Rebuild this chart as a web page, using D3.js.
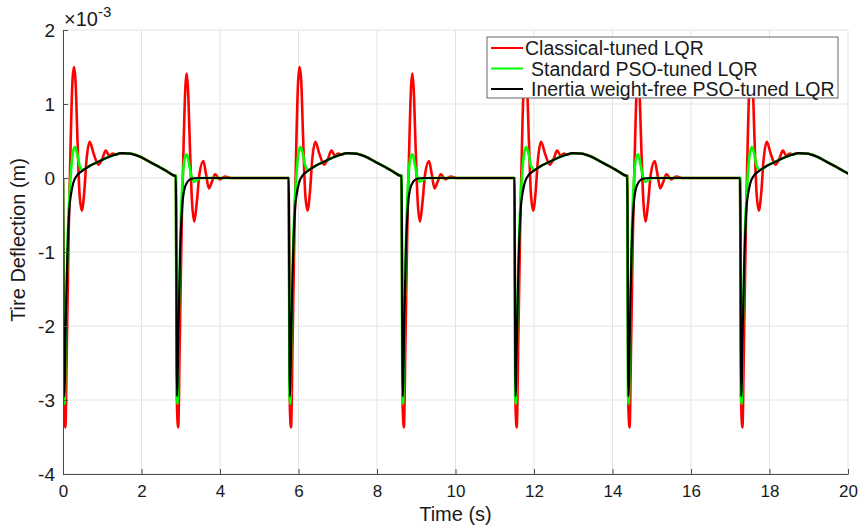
<!DOCTYPE html>
<html>
<head>
<meta charset="utf-8">
<script src="https://cdn.jsdelivr.net/npm/d3@7"></script>
<style>
  body { margin: 0; background: #fff; }
  text { font-family: "Liberation Sans", Arial, sans-serif; }
</style>
</head>
<body>
<div id="chart"></div>
<script>
// tick labels
const xTicks = [0, 2, 4, 6, 8, 10, 12, 14, 16, 18, 20];
const yTicks = [-4, -3, -2, -1, 0, 1, 2];

// the road input repeats: each cycle starts with a drop, then either a bump or flat road
const cycleStarts = [0, 2.875, 5.75, 8.625, 11.5, 14.375, 17.25];
const cycleKinds = ["bump", "flat", "bump", "flat", "bump", "flat", "bump"];

// [seconds after cycle start, deflection x1e-3 m]
const classicalBump = [[0, 0], [0.03, -3.1], [0.06, -3.37], [0.1, -2.2], [0.15, -0.6], [0.2, 0.6], [0.24, 1.3], [0.28, 1.5], [0.32, 1.3], [0.37, 0.5], [0.42, -0.2], [0.48, -0.44], [0.54, -0.2], [0.6, 0.25], [0.68, 0.49], [0.78, 0.33], [0.9, 0.18], [1.0, 0.26], [1.09, 0.37], [1.18, 0.3], [1.26, 0.33], [1.35, 0.32], [1.5, 0.335], [1.7, 0.33], [1.95, 0.29], [2.2, 0.22], [2.45, 0.15], [2.65, 0.09], [2.86, 0.03]];
const classicalFlat = [[0, 0.03], [0.03, -3.1], [0.06, -3.37], [0.1, -2.2], [0.15, -0.6], [0.2, 0.5], [0.24, 1.2], [0.275, 1.41], [0.31, 1.2], [0.36, 0.4], [0.41, -0.3], [0.47, -0.59], [0.53, -0.35], [0.6, 0.05], [0.7, 0.23], [0.77, 0.05], [0.84, -0.14], [0.92, -0.05], [1.0, 0.05], [1.12, -0.02], [1.25, 0.02], [1.4, 0], [2.86, 0]];
const standardBump = [[0, 0], [0.02, -2.95], [0.04, -3.05], [0.07, -2.0], [0.12, -0.8], [0.18, -0.1], [0.24, 0.3], [0.3, 0.42], [0.36, 0.33], [0.42, 0.17], [0.5, 0.11], [0.7, 0.17], [0.9, 0.22], [1.1, 0.27], [1.3, 0.31], [1.5, 0.335], [1.7, 0.33], [1.95, 0.29], [2.2, 0.22], [2.45, 0.15], [2.65, 0.09], [2.86, 0.03]];
const standardFlat = [[0, 0.03], [0.02, -2.95], [0.04, -3.05], [0.07, -2.0], [0.12, -0.7], [0.18, 0.05], [0.23, 0.27], [0.28, 0.32], [0.34, 0.18], [0.4, 0.02], [0.46, -0.05], [0.55, -0.02], [0.7, 0], [2.86, 0]];
const inertiaBump = [[0, 0], [0.03, -2.95], [0.07, -2.0], [0.11, -1.1], [0.16, -0.43], [0.21, -0.2], [0.26, -0.07], [0.35, 0.03], [0.5, 0.1], [0.7, 0.17], [0.9, 0.22], [1.1, 0.27], [1.3, 0.31], [1.5, 0.335], [1.7, 0.33], [1.95, 0.29], [2.2, 0.22], [2.45, 0.15], [2.65, 0.09], [2.86, 0.03]];
const inertiaFlat = [[0, 0.03], [0.03, -2.95], [0.07, -2.0], [0.11, -1.0], [0.16, -0.4], [0.22, -0.15], [0.3, -0.05], [0.4, -0.01], [0.55, 0], [2.86, 0]];

const seriesNames = ["Classical-tuned LQR", "Standard PSO-tuned LQR", "Inertia weight-free PSO-tuned LQR"];
const seriesColors = ["#ff0000", "#00ff00", "#000000"];
const seriesWidths = [2.6, 2.6, 2.2];
const seriesTemplates = [
    { bump: classicalBump, flat: classicalFlat },
    { bump: standardBump, flat: standardFlat },
    { bump: inertiaBump, flat: inertiaFlat }
];

const w = 861, h = 526;
const margin = { left: 63, right: 13, top: 30, bottom: 52 };

const svg = d3.select("#chart").append("svg")
    .attr("width", w)
    .attr("height", h);

const x = d3.scaleLinear().domain([0, 20]).range([margin.left, w - margin.right]);
const y = d3.scaleLinear().domain([-4, 2]).range([h - margin.bottom, margin.top]);

// grid
svg.append("g")
    .selectAll("line")
    .data(xTicks)
    .join("line")
    .attr("x1", d => x(d)).attr("x2", d => x(d))
    .attr("y1", y(-4)).attr("y2", y(2))
    .attr("stroke", "#e3e3e3")
    .attr("stroke-width", 1);
svg.append("g")
    .selectAll("line")
    .data(yTicks)
    .join("line")
    .attr("x1", x(0)).attr("x2", x(20))
    .attr("y1", d => y(d)).attr("y2", d => y(d))
    .attr("stroke", "#e3e3e3")
    .attr("stroke-width", 1);

// build each series from its cycles
const seriesData = seriesTemplates.map(t => {
    let pts = [];
    cycleStarts.forEach((s, i) => {
        t[cycleKinds[i]].forEach(p => pts.push([s + p[0], p[1]]));
    });
    return pts;
});

svg.append("clipPath").attr("id", "clip")
    .append("rect")
    .attr("x", x(0)).attr("y", y(2))
    .attr("width", x(20) - x(0)).attr("height", y(-4) - y(2));

const line = d3.line()
    .x(d => x(d[0]))
    .y(d => y(d[1]))
    .curve(d3.curveMonotoneX);

svg.append("g")
    .attr("clip-path", "url(#clip)")
    .selectAll("path")
    .data(seriesData)
    .join("path")
    .attr("d", line)
    .attr("fill", "none")
    .attr("stroke", (d, i) => seriesColors[i])
    .attr("stroke-width", (d, i) => seriesWidths[i])
    .attr("stroke-linejoin", "round");

// axes
const xAxis = svg.append("g")
    .attr("transform", `translate(0,${y(-4)})`)
    .call(d3.axisBottom(x).tickValues(xTicks).tickFormat(d => String(d))
        .tickSizeInner(-5).tickSizeOuter(0).tickPadding(11));
const yAxis = svg.append("g")
    .attr("transform", `translate(${x(0)},0)`)
    .call(d3.axisLeft(y).tickValues(yTicks).tickFormat(d => String(d))
        .tickSizeInner(-5).tickSizeOuter(0).tickPadding(8));

[xAxis, yAxis].forEach(a => {
    a.select(".domain").attr("stroke", "#4d4d4d");
    a.selectAll(".tick line").attr("stroke", "#4d4d4d");
    a.selectAll(".tick text").attr("fill", "#1a1a1a");
});
xAxis.selectAll(".tick text").style("font-size", "17px");
yAxis.selectAll(".tick text").style("font-size", "19px");

// axis titles
svg.append("text")
    .attr("x", (x(0) + x(20)) / 2)
    .attr("y", 521)
    .attr("text-anchor", "middle")
    .style("font-size", "20px")
    .attr("fill", "#1a1a1a")
    .text("Time (s)");

svg.append("text")
    .attr("transform", `translate(25,${(y(-4) + y(2)) / 2 - 12}) rotate(-90)`)
    .attr("text-anchor", "middle")
    .style("font-size", "20px")
    .attr("fill", "#1a1a1a")
    .text("Tire Deflection (m)");

// exponent
const expo = svg.append("text")
    .attr("x", 64)
    .attr("y", 26)
    .attr("fill", "#1a1a1a")
    .style("font-size", "20px");
expo.append("tspan").text("\u00d710");
expo.append("tspan").attr("dy", -9).style("font-size", "15px").text("-3");

// legend
const legend = svg.append("g").attr("transform", "translate(487,37)");
legend.append("rect")
    .attr("width", 351)
    .attr("height", 61)
    .attr("fill", "#fff")
    .attr("stroke", "#666")
    .attr("stroke-width", 1);

const entry = legend.selectAll("g")
    .data(seriesNames)
    .join("g")
    .attr("transform", (d, i) => `translate(0,${11 + i * 20.5})`);
entry.append("line")
    .attr("x1", 4).attr("x2", 36)
    .attr("stroke", (d, i) => seriesColors[i])
    .attr("stroke-width", 2);
entry.append("text")
    .attr("x", (d, i) => i === 0 ? 38 : 44)
    .attr("dy", "0.36em")
    .style("font-size", "19.5px")
    .attr("fill", "#1a1a1a")
    .text(d => d);
</script>
</body>
</html>
